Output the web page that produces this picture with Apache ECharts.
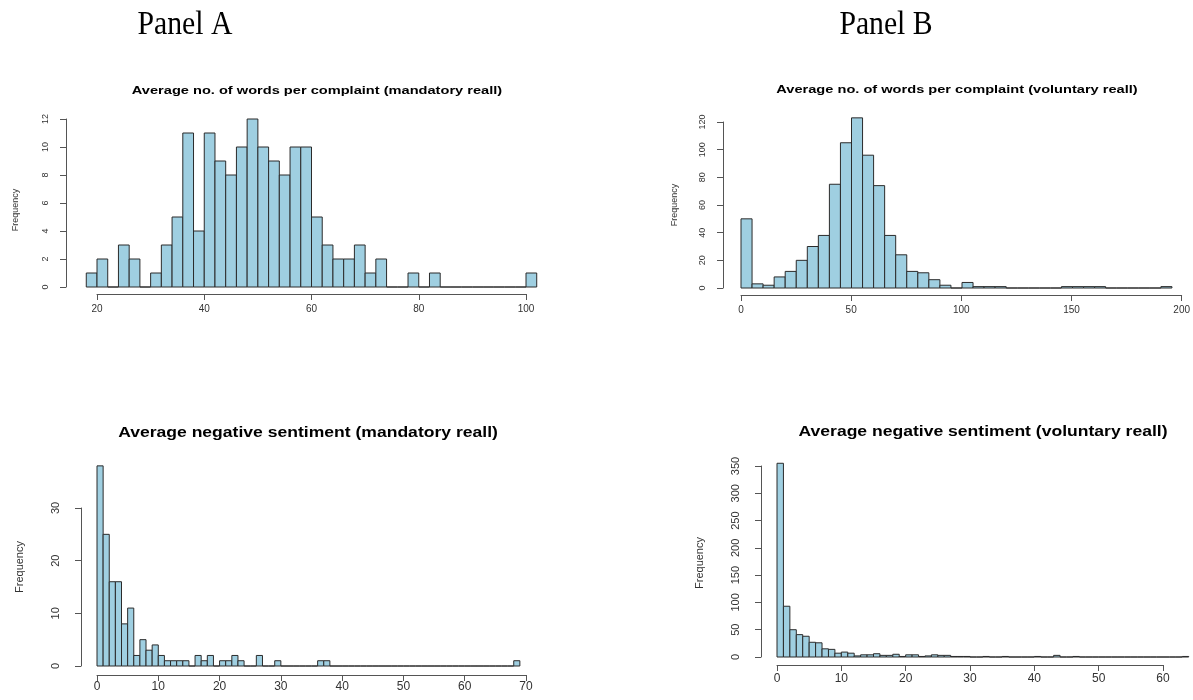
<!DOCTYPE html>
<html>
<head>
<meta charset="utf-8">
<script src="https://cdn.jsdelivr.net/npm/echarts@6/dist/echarts.min.js"></script>
<style>
  html, body { margin: 0; padding: 0; background: #fff; }
  #chart { width: 1193px; height: 700px; }
</style>
</head>
<body>
<div id="chart"></div>
<script>
// histogram counts
const wordsMandStart = 18, wordsMandWidth = 2
const wordsMandCounts = [1, 2, 0, 3, 2, 0, 1, 3, 5, 11, 4, 11, 9, 8, 10, 12, 10, 9, 8, 10,
  10, 5, 3, 2, 2, 3, 1, 2, 0, 0, 1, 0, 1, 0, 0, 0, 0, 0, 0, 0, 0, 1]

const wordsVolStart = 0, wordsVolWidth = 5
const wordsVolCounts = [50, 3, 2, 8, 12, 20, 30, 38, 75, 105, 123, 96, 74, 38, 24, 12, 11, 6, 2, 0,
  4, 1, 1, 1, 0, 0, 0, 0, 0, 1, 1, 1, 1, 0, 0, 0, 0, 0, 1]

const negMandStart = 0, negMandWidth = 1
const negMandCounts = [38, 25, 16, 16, 8, 11, 2, 5, 3, 4, 2, 1, 1, 1, 1, 0, 2, 1, 2, 0,
  1, 1, 2, 1, 0, 0, 2, 0, 0, 1, 0, 0, 0, 0, 0, 0, 1, 1, 0, 0,
  0, 0, 0, 0, 0, 0, 0, 0, 0, 0, 0, 0, 0, 0, 0, 0, 0, 0, 0, 0,
  0, 0, 0, 0, 0, 0, 0, 0, 1]

const negVolStart = 0, negVolWidth = 1
const negVolCounts = [355, 93, 50, 41, 38, 27, 26, 15, 14, 7, 9, 7, 2, 4, 4, 6, 3, 3, 5, 1,
  4, 4, 1, 2, 4, 3, 3, 1, 1, 1, 0, 0, 1, 0, 0, 1, 0, 0, 0, 0,
  1, 0, 0, 3, 0, 0, 1, 0, 0, 0, 0, 0, 0, 0, 0, 0, 0, 0, 0, 0,
  0, 0, 0, 1]

const titles = [
  'Average no. of words per complaint (mandatory reall)',
  'Average no. of words per complaint (voluntary reall)',
  'Average negative sentiment (mandatory reall)',
  'Average negative sentiment (voluntary reall)'
]

// x ticks / y ticks for each panel: [min, max, interval]
const xTicks = [[20, 100, 20], [0, 200, 50], [0, 70, 10], [0, 60, 10]]
const yTicks = [[0, 12, 2], [0, 120, 20], [0, 30, 10], [0, 350, 50]]

const FILL = '#9fcfe1'
const EDGE = '#2b2b2b'
const AXIS = '#555'
const TXT = '#333'

function makeBins(start, width, counts) {
  return counts.map((c, i) => [start + i * width, start + (i + 1) * width, c])
}

const bins = [
  makeBins(wordsMandStart, wordsMandWidth, wordsMandCounts),
  makeBins(wordsVolStart, wordsVolWidth, wordsVolCounts),
  makeBins(negMandStart, negMandWidth, negMandCounts),
  makeBins(negVolStart, negVolWidth, negVolCounts)
]

// pixel layout for each panel: value->pixel anchors, axis line positions, text
// title: [x, y, fontSize, scaleX] — the source figure is stretched sideways
const layout = [
  { x: [20, 97, 100, 526], y: [0, 287, 12, 119], xLine: 294, yLine: 66,
    title: [317, 91, 11.5, 1.27], freq: [16, 210, 9], xFont: 10, yFont: 9, xm: 10, ym: 16 },
  { x: [0, 741, 200, 1183], y: [0, 288, 120, 122], xLine: 295, yLine: 723,
    title: [957, 90, 11.5, 1.27], freq: [675, 205, 9], xFont: 10, yFont: 9, xm: 10, ym: 16 },
  { x: [0, 97, 70, 526], y: [0, 666, 30, 508], xLine: 675, yLine: 81,
    title: [308, 433, 15, 1.17], freq: [20, 567, 11], xFont: 12, yFont: 11, xm: 6, ym: 20 },
  { x: [0, 777, 60, 1163], y: [0, 657, 350, 466], xLine: 665, yLine: 761,
    title: [983, 432, 15, 1.17], freq: [700, 563, 11], xFont: 12, yFont: 11, xm: 8, ym: 20 }
]

const lin = (a, v) => a[1] + (v - a[0]) * (a[3] - a[1]) / (a[2] - a[0])

const grid = [], xAxis = [], yAxis = [], series = [], graphic = []

layout.forEach((L, p) => {
  const b = bins[p]
  const x0 = b[0][0], x1 = b[b.length - 1][1]
  const yMax = Math.max(...b.map(d => d[2]), yTicks[p][1])
  const hidden = { show: false }

  // data grid
  let g = grid.length
  grid.push({ left: lin(L.x, x0), width: lin(L.x, x1) - lin(L.x, x0),
    top: lin(L.y, yMax), height: lin(L.y, 0) - lin(L.y, yMax) })
  xAxis.push({ type: 'value', gridIndex: g, min: x0, max: x1, ...hidden, splitLine: hidden })
  yAxis.push({ type: 'value', gridIndex: g, min: 0, max: yMax, ...hidden, splitLine: hidden })
  series.push({
    type: 'custom', xAxisIndex: g, yAxisIndex: g, data: b,
    encode: { x: [0, 1], y: 2 },
    renderItem(params, api) {
      const a = api.coord([api.value(0), 0])
      const c = api.coord([api.value(1), api.value(2)])
      return { type: 'rect',
        shape: { x: a[0], y: c[1], width: c[0] - a[0], height: a[1] - c[1] },
        style: { fill: FILL, stroke: EDGE, lineWidth: 1 } }
    }
  })

  // visible x axis, from first to last tick
  const [xmn, xmx, xin] = xTicks[p]
  g = grid.length
  grid.push({ left: lin(L.x, xmn), width: lin(L.x, xmx) - lin(L.x, xmn), top: L.xLine - 10, height: 10 })
  xAxis.push({ type: 'value', gridIndex: g, min: xmn, max: xmx, interval: xin, position: 'bottom',
    axisLine: { show: true, lineStyle: { color: AXIS, width: 1 } },
    axisTick: { show: true, inside: false, length: 6, lineStyle: { color: AXIS } },
    axisLabel: { color: TXT, fontSize: L.xFont, fontFamily: 'Liberation Sans', margin: L.xm },
    splitLine: hidden })
  yAxis.push({ type: 'value', gridIndex: g, ...hidden, splitLine: hidden })

  // visible y axis, from 0 to last tick
  const [ymn, ymx, yin] = yTicks[p]
  g = grid.length
  grid.push({ left: L.yLine, width: 10, top: lin(L.y, ymx), height: lin(L.y, ymn) - lin(L.y, ymx) })
  xAxis.push({ type: 'value', gridIndex: g, ...hidden, splitLine: hidden })
  yAxis.push({ type: 'value', gridIndex: g, min: ymn, max: ymx, interval: yin, position: 'left',
    axisLine: { show: true, lineStyle: { color: AXIS, width: 1 } },
    axisTick: { show: true, inside: false, length: 6, lineStyle: { color: AXIS } },
    axisLabel: { color: TXT, fontSize: L.yFont, fontFamily: 'Liberation Sans', rotate: 90, margin: L.ym },
    splitLine: hidden })

  graphic.push({ type: 'text', x: L.title[0], y: L.title[1], scaleX: L.title[3],
    style: { text: titles[p], fill: '#000', font: `bold ${L.title[2]}px "Liberation Sans"`,
      align: 'center', verticalAlign: 'middle' } })
  graphic.push({ type: 'text', x: L.freq[0], y: L.freq[1], rotation: Math.PI / 2,
    style: { text: 'Frequency', fill: TXT, font: `${L.freq[2]}px "Liberation Sans"`,
      align: 'center', verticalAlign: 'middle' } })
})

graphic.push({ type: 'text', x: 185, y: 25, scaleX: 0.9,
  style: { text: 'Panel A', fill: '#000', font: '33px "Liberation Serif"', align: 'center', verticalAlign: 'middle' } })
graphic.push({ type: 'text', x: 886, y: 25, scaleX: 0.9,
  style: { text: 'Panel B', fill: '#000', font: '33px "Liberation Serif"', align: 'center', verticalAlign: 'middle' } })

const chart = echarts.init(document.getElementById('chart'))
chart.setOption({
  animation: false,
  backgroundColor: '#fff',
  grid, xAxis, yAxis, series, graphic
})
window.addEventListener('resize', () => chart.resize())
</script>
</body>
</html>
